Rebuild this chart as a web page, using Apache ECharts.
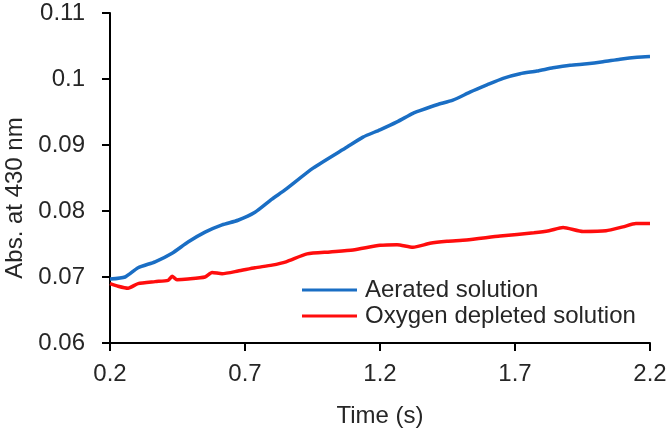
<!DOCTYPE html>
<html>
<head>
<meta charset="utf-8">
<script src="https://cdn.jsdelivr.net/npm/echarts@6/dist/echarts.min.js"></script>
<style>
  html, body { margin: 0; padding: 0; background: #fff; }
  #chart { width: 670px; height: 434px; }
</style>
</head>
<body>
<div id="chart"></div>
<script>
// time (s) and absorbance
const aeratedTime = [0.2, 0.256, 0.304, 0.367, 0.43, 0.489, 0.552, 0.615, 0.674, 0.737, 0.8, 0.848, 0.952, 1.078, 1.137, 1.2, 1.263, 1.322, 1.348, 1.411, 1.47, 1.533, 1.596, 1.656, 1.719, 1.781, 1.841, 1.904, 1.967, 2.026, 2.089, 2.152, 2.2];
const aeratedAbs = [0.0697, 0.07, 0.0714, 0.0723, 0.0736, 0.0753, 0.0768, 0.0779, 0.0786, 0.0798, 0.0818, 0.0832, 0.0865, 0.0897, 0.0912, 0.0923, 0.0935, 0.0948, 0.0952, 0.0961, 0.0968, 0.098, 0.0991, 0.1001, 0.1008, 0.1012, 0.1017, 0.1021, 0.1023, 0.1026, 0.103, 0.1033, 0.1034];

const depletedTime = [0.2, 0.23, 0.267, 0.304, 0.367, 0.415, 0.43, 0.448, 0.489, 0.552, 0.578, 0.615, 0.674, 0.737, 0.8, 0.852, 0.93, 1.015, 1.1, 1.2, 1.263, 1.322, 1.385, 1.448, 1.52, 1.645, 1.77, 1.826, 1.878, 1.952, 2.037, 2.1, 2.148, 2.2];
const depletedAbs = [0.069, 0.0686, 0.0683, 0.069, 0.0693, 0.0695, 0.0701, 0.0696, 0.0697, 0.07, 0.0707, 0.0705, 0.0709, 0.0714, 0.0718, 0.0723, 0.0735, 0.0738, 0.0741, 0.0748, 0.0749, 0.0745, 0.0751, 0.0754, 0.0756, 0.0762, 0.0767, 0.077, 0.0775, 0.0769, 0.077, 0.0776, 0.0781, 0.0781];

const seriesNames = ['Aerated solution', 'Oxygen depleted solution'];
const xTicks = [0.2, 0.7, 1.2, 1.7, 2.2];
const yTicks = [0.06, 0.07, 0.08, 0.09, 0.1, 0.11];

const pairs = (xs, ys) => xs.map((x, i) => [x, ys[i]]);

const textColor = '#262626';
const font = 'Liberation Sans, Arial, sans-serif';
const fs = 24;

const chart = echarts.init(document.getElementById('chart'), null, { renderer: 'canvas' });

chart.setOption({
  animation: false,
  backgroundColor: '#fff',
  grid: { left: 110, right: 20, top: 13, bottom: 91, outerBoundsMode: 'none' },
  legend: {
    orient: 'vertical',
    left: 297,
    top: 272,
    itemWidth: 55,
    itemHeight: 3,
    itemGap: 0,
    icon: 'rect',
    textStyle: { fontSize: fs, fontFamily: font, color: textColor, lineHeight: 26, padding: [0, 0, 0, 3] },
    data: seriesNames
  },
  xAxis: {
    type: 'value',
    min: xTicks[0],
    max: xTicks[xTicks.length - 1],
    interval: 0.5,
    name: 'Time (s)',
    nameLocation: 'middle',
    nameGap: 61,
    nameTextStyle: { fontSize: fs, fontFamily: font, color: textColor },
    axisLine: { lineStyle: { color: '#000', width: 2 } },
    axisTick: { show: true, length: 8, lineStyle: { color: '#000', width: 2 } },
    axisLabel: {
      margin: 19, fontSize: fs, fontFamily: font, color: textColor,
      formatter: v => String(+v.toFixed(1))
    },
    splitLine: { show: false }
  },
  yAxis: {
    type: 'value',
    min: yTicks[0],
    max: yTicks[yTicks.length - 1],
    interval: 0.01,
    name: 'Abs. at 430 nm',
    nameLocation: 'middle',
    nameGap: 83,
    nameTextStyle: { fontSize: fs, fontFamily: font, color: textColor, padding: [0, 40, 0, 0] },
    axisLine: { show: true, lineStyle: { color: '#000', width: 2 } },
    axisTick: { show: true, length: 8, lineStyle: { color: '#000', width: 2 } },
    axisLabel: {
      margin: 25, fontSize: fs, fontFamily: font, color: textColor,
      formatter: v => String(+v.toFixed(2))
    },
    splitLine: { show: false }
  },
  series: [
    {
      name: seriesNames[0],
      type: 'line',
      symbol: 'none',
      smooth: 0.2,
      data: pairs(aeratedTime, aeratedAbs),
      itemStyle: { color: '#1a6ec4' },
      lineStyle: { color: '#1a6ec4', width: 3.5 }
    },
    {
      name: seriesNames[1],
      type: 'line',
      symbol: 'none',
      smooth: 0.2,
      data: pairs(depletedTime, depletedAbs),
      itemStyle: { color: '#ff0d0d' },
      lineStyle: { color: '#ff0d0d', width: 3.5 }
    }
  ]
});
</script>
</body>
</html>
